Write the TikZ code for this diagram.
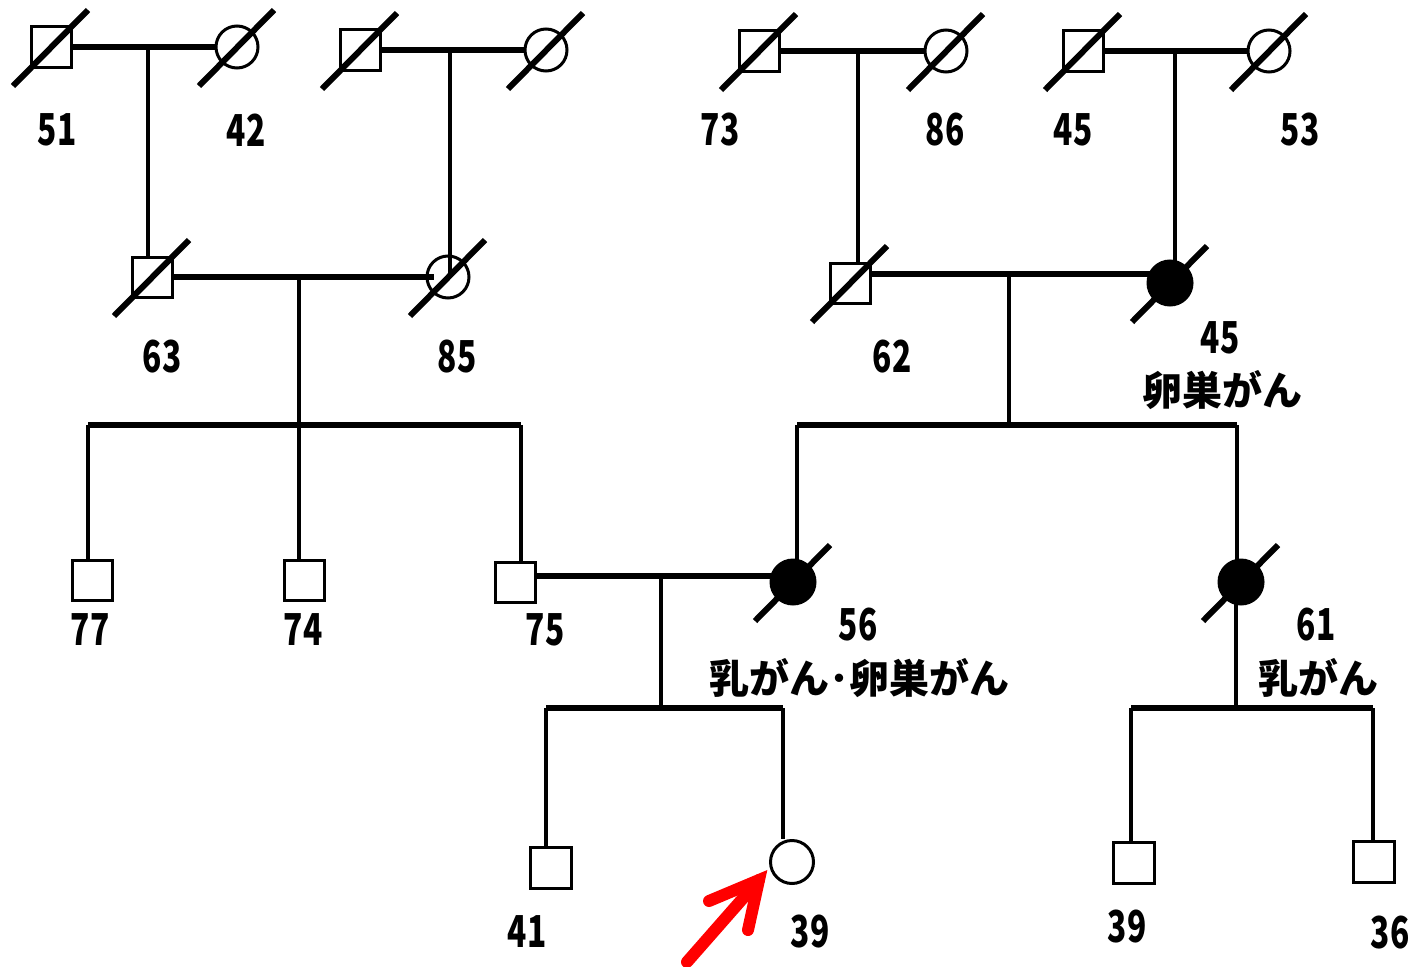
\documentclass[tikz,border=0pt]{standalone}
\usepackage{fontspec}
\setmainfont{Noto Sans CJK JP}
\newcommand\dg[1]{\scalebox{0.72}[1]{#1}}
\tikzset{
  conn/.style={line width=4.5pt, line cap=butt},
  mline/.style={line width=5.5pt},
  slash/.style={line width=6pt},
  msq/.style={rectangle, draw, line width=3pt, minimum size=40pt, inner sep=0pt},
  fcir/.style={circle, draw, line width=3pt, minimum size=42pt, inner sep=0pt},
  aff/.style={fill=black},
  num/.style={inner sep=0pt, font=\fontsize{44}{48}\selectfont\bfseries},
  jtxt/.style={inner sep=0pt, font=\fontsize{40}{44}\selectfont\bfseries},
  proband/.style={draw=red, line width=12pt, line cap=round, line join=miter, red}
}
\begin{document}
\begin{tikzpicture}[x=1pt,y=-1pt]
\useasboundingbox (0,0) rectangle (1415,966);
% ---------- coordinates ----------
\coordinate (m1) at (148,48);
\coordinate (m2) at (450,50);
\coordinate (m3) at (299,276);
\coordinate (sb1) at (299,425);
\coordinate (d77) at (88,425);
\coordinate (d75) at (521,425);
\coordinate (m4) at (858,52);
\coordinate (m5) at (1175,51);
\coordinate (m6) at (1009,274);
\coordinate (sb2) at (1009,425);
\coordinate (d56) at (797,425);
\coordinate (d61) at (1237,425);
\coordinate (m7) at (661,576);
\coordinate (sb3) at (661,708);
\coordinate (d41) at (546,708);
\coordinate (d39) at (783,708);
\coordinate (sb4) at (1236,708);
\coordinate (d39b) at (1131,708);
\coordinate (d36) at (1373,708);
% ---------- nodes (positions) ----------
\path
 (51,47) node[msq] (s51) {}
 (237,47) node[fcir] (c42) {}
 (360,50) node[msq] (s2m) {}
 (546,50) node[fcir] (c2f) {}
 (152,277) node[msq] (s63) {}
 (448,277) node[fcir] (c85) {}
 (759,51) node[msq] (s73) {}
 (946,51) node[fcir] (c86) {}
 (1083,51) node[msq] (s45) {}
 (1269,51) node[fcir] (c53) {}
 (850,283) node[msq] (s62) {}
 (1170,283) node[fcir,aff,minimum size=44pt] (f45) {}
 (92,580) node[msq] (s77) {}
 (304,580) node[msq] (s74) {}
 (515,582) node[msq] (s75) {}
 (793,582) node[fcir,aff,minimum size=44pt] (f56) {}
 (1241,582) node[fcir,aff,minimum size=44pt] (f61) {}
 (551,868) node[msq,minimum size=41pt] (s41) {}
 (792,862) node[fcir,minimum size=43pt] (c39) {}
 (1134,863) node[msq,minimum size=41pt] (s39) {}
 (1374,862) node[msq,minimum size=41pt] (s36) {};
% ---------- connectors ----------
\draw[mline] (s51) -- (c42);
\draw[conn] (m1) -- (m1 |- s63.north);
\draw[mline] (s2m) -- (c2f);
\draw[conn] (m2) -- (m2 |- c85.center);
\draw[mline] (s63) -- ([xshift=8pt]c85.west);
\draw[conn] (m3) -- (sb1);
\draw[mline] (d77) -- (d75);
\draw[conn] (d77) -- (d77 |- s77.north);
\draw[conn] (d75) -- (d75 |- s75.north);
\draw[conn] (sb1) -- (sb1 |- s74.north);
\draw[mline] (s73) -- (c86);
\draw[conn] (m4) -- (m4 |- s62.north);
\draw[mline] (s45) -- (c53);
\draw[conn] (m5) -- (m5 |- f45.center);
\draw[mline] (s62.east |- m6) -- (f45.center |- m6);
\draw[conn] (m6) -- (sb2);
\draw[mline] (d56) -- (d61);
\draw[conn] (d56) -- (d56 |- f56.center);
\draw[conn] (d61) -- (d61 |- f61.center);
\draw[mline] (s75.east |- m7) -- (f56.center |- m7);
\draw[conn] (m7) -- (sb3);
\draw[mline] (d41) -- (d39);
\draw[conn] (d41) -- (d41 |- s41.north);
\draw[conn] (d39) -- (d39 |- c39.north);
\draw[conn] (sb4 |- f61.center) -- (sb4);
\draw[mline] (d39b) -- (d36);
\draw[conn] (d39b) -- (d39b |- s39.north);
\draw[conn] (d36) -- (d36 |- s36.north);
% redraw filled symbols on top
\foreach \n in {f45,f56,f61}{\fill (\n) circle (22pt);}
% ---------- deceased slashes ----------
\foreach \n in {s51,c42,s2m,c2f,s63,c85,s73,c86,s45,c53,s62,f45,f56,f61}{
  \draw[slash] ([shift={(-38,39)}]\n.center) -- ([shift={(37,-37)}]\n.center);
}
% ---------- labels ----------
\node[num] (l51) at (57,130) {\dg{51}};
\node[num] (l42) at (246,130) {\dg{42}};
\node[num] (l63) at (162,357) {\dg{63}};
\node[num] (l85) at (457,357) {\dg{85}};
\node[num] (l73) at (720,130) {\dg{73}};
\node[num] (l86) at (945,130) {\dg{86}};
\node[num] (l45a) at (1073,130) {\dg{45}};
\node[num] (l53) at (1300,130) {\dg{53}};
\node[num] (l62) at (892,357) {\dg{62}};
\node[num] (l45b) at (1220,338) {\dg{45}};
\node[jtxt] (t45b) at (1222,390) {卵巣がん};
\node[num] (l77) at (90,630) {\dg{77}};
\node[num] (l74) at (303,630) {\dg{74}};
\node[num] (l75) at (545,630) {\dg{75}};
\node[num] (l56) at (858,625) {\dg{56}};
\node[jtxt] (t56) at (859,678) {乳がん･卵巣がん};
\node[num] (l61) at (1316,625) {\dg{61}};
\node[jtxt] (t61) at (1318,678) {乳がん};
\node[num] (l41) at (527,932) {\dg{41}};
\node[num] (l39a) at (810,932) {\dg{39}};
\node[num] (l39b) at (1127,927) {\dg{39}};
\node[num] (l36) at (1390,933) {\dg{36}};
% ---------- proband arrow ----------
\coordinate (atail) at (687,962);
\coordinate (atip) at (759,880);
\coordinate (awl) at (709,901);
\coordinate (awr) at (748,930);
\draw[proband] (atail) -- (atip);
\draw[proband] (awl) -- (atip) -- (awr);
\end{tikzpicture}
\end{document}
